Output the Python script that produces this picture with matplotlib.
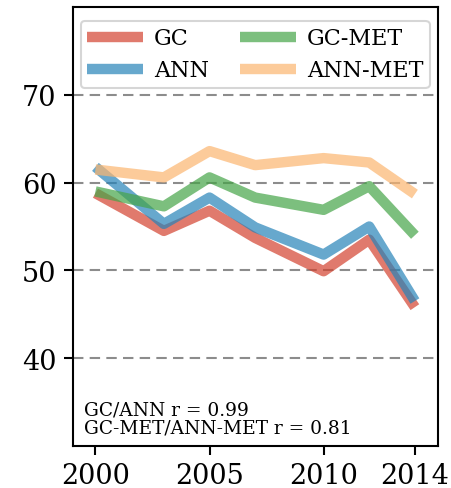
import matplotlib
matplotlib.use("Agg")
import matplotlib.pyplot as plt

years = [2000, 2003, 2005, 2007, 2010, 2012, 2014]
gc = [58.8, 54.5, 56.8, 53.7, 49.9, 53.5, 45.8]
ann = [61.8, 55.3, 58.3, 54.9, 51.8, 55.0, 46.5]
gc_met = [59.0, 57.3, 60.6, 58.3, 56.9, 59.6, 54.0]
ann_met = [61.5, 60.6, 63.6, 62.0, 62.8, 62.3, 58.7]

labels = ["GC", "ANN", "GC-MET", "ANN-MET"]
colors = ["#d3422f", "#2683b9", "#45a447", "#fcb56f"]
xticks = [2000, 2005, 2010, 2014]
yticks = [40, 50, 60, 70]

plt.rcParams['font.family'] = ['DejaVu Serif']

fig = plt.figure(figsize=(4.51, 4.89), dpi=100)
ax = fig.add_axes([0.161, 0.0865, 0.8095, 0.8965])

for ys, lab, c in zip([gc, ann, gc_met, ann_met], labels, colors):
    ax.plot(years, ys, color=c, lw=7.5, alpha=0.7, label=lab, solid_capstyle='butt')

ax.set_xlim(1999, 2015)
ax.set_ylim(30, 80)
ax.set_xticks(xticks)
ax.set_yticks(yticks)
ax.tick_params(labelsize=19.5, length=6.5, width=1.5, pad=5)
for yv in yticks:
    ax.axhline(yv, color='gray', lw=1.5, ls=(0, (5, 3)), zorder=0, alpha=0.9)
for s in ax.spines.values():
    s.set_linewidth(1.5)
    s.set_color('black')

leg = ax.legend(loc='upper center', ncol=2, fontsize=16, handlelength=2.5,
                handletextpad=0.5, columnspacing=1.4, frameon=True,
                borderaxespad=0.6, borderpad=0.3, labelspacing=0.45)
leg.get_frame().set_edgecolor('#cccccc')
leg.get_frame().set_linewidth(1.5)

ax.text(0.03, 0.02, "GC/ANN r = 0.99\nGC-MET/ANN-MET r = 0.81", transform=ax.transAxes,
        fontsize=13.4, ha='left', va='bottom', linespacing=1.0)

fig.savefig("out.png", dpi=100)
